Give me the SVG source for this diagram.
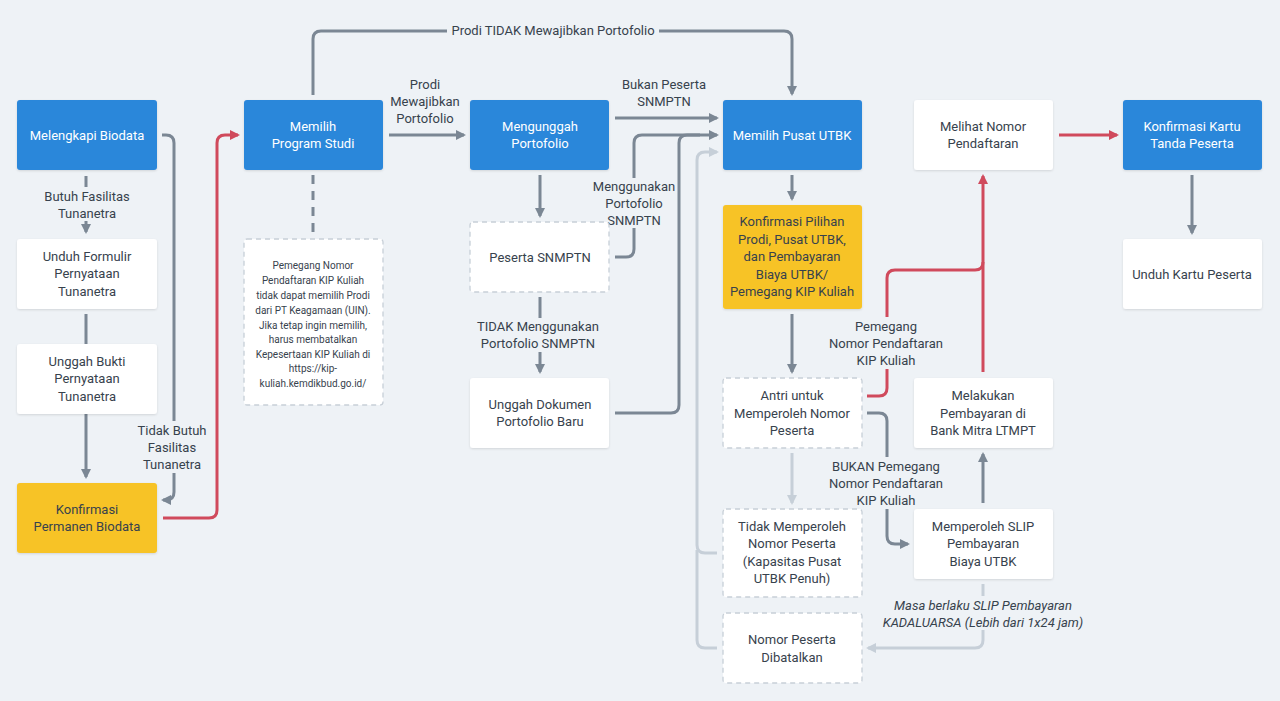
<svg xmlns="http://www.w3.org/2000/svg" width="1280" height="701" viewBox="0 0 1280 701">
<defs>
<marker id="ag" viewBox="0 0 10 10" refX="8" refY="5" markerWidth="10" markerHeight="10" markerUnits="userSpaceOnUse" orient="auto"><path d="M0,0 L10,5 L0,10 z" fill="#7b8794"/></marker>
<marker id="ar" viewBox="0 0 10 10" refX="8" refY="5" markerWidth="10" markerHeight="10" markerUnits="userSpaceOnUse" orient="auto"><path d="M0,0 L10,5 L0,10 z" fill="#d04a5c"/></marker>
<marker id="al" viewBox="0 0 10 10" refX="8" refY="5" markerWidth="10" markerHeight="10" markerUnits="userSpaceOnUse" orient="auto"><path d="M0,0 L10,5 L0,10 z" fill="#c6cfd8"/></marker>
<filter id="sh" x="-10%" y="-10%" width="120%" height="130%"><feDropShadow dx="0" dy="1" stdDeviation="1" flood-color="#000" flood-opacity="0.12"/></filter>
</defs>
<style>
text{font-family:Roboto,"Noto Sans",sans-serif;font-size:13px;fill:#37424d;text-anchor:middle}
.w text{fill:#ffffff}
.blue{fill:#2c87da;filter:url(#sh)}
.yel{fill:#f7c325;filter:url(#sh)}
.wht{fill:#ffffff;filter:url(#sh)}
.dsh{fill:#ffffff;stroke:#c7cfd7;stroke-width:1.3;stroke-dasharray:5,4}
.ln{fill:none;stroke:#7b8794;stroke-width:3}
.lr{fill:none;stroke:#d04a5c;stroke-width:3}
.ll{fill:none;stroke:#c6cfd8;stroke-width:3}
.bg{fill:#eef2f6}
.it{font-style:italic}
.sm{font-size:10px}
</style>
<rect width="1280" height="701" fill="#eef2f6"/>
<g id="connectors">
<path class="ln" d="M86,176 V232" marker-end="url(#ag)"/>
<path class="ln" d="M86,314 V344"/>
<path class="ln" d="M86,414 V477" marker-end="url(#ag)"/>
<path class="ln" d="M162,135 H166 Q174,135 174,143 V492 Q174,500 166,500 H163" marker-end="url(#ag)"/>
<path class="lr" d="M163,518 H209 Q217,518 217,510 V143 Q217,135 225,135 H238" marker-end="url(#ar)"/>
<path class="ln" d="M389,135 H464" marker-end="url(#ag)"/>
<path class="ln" d="M313,95 V39 Q313,31 321,31 H784 Q792,31 792,39 V94" marker-end="url(#ag)"/>
<path class="ln" d="M313,175 V233" stroke-dasharray="9,7"/>
<path class="ln" d="M615,118 H717" marker-end="url(#ag)"/>
<path class="ln" d="M540,175 V216" marker-end="url(#ag)"/>
<path class="ln" d="M615,257 H626 Q634,257 634,249 V143 Q634,135 642,135 H717" marker-end="url(#ag)"/>
<path class="ln" d="M540,297 V372" marker-end="url(#ag)"/>
<path class="ln" d="M615,413 H671 Q679,413 679,405 V143 Q679,135 687,135 H700"/>
<path class="ll" d="M717,553 H705 Q697,553 697,545 V160 Q697,152 705,152 H717" marker-end="url(#al)"/>
<path class="ll" d="M717,648 H705 Q697,648 697,640 V550"/>
<path class="ln" d="M792,175 V199" marker-end="url(#ag)"/>
<path class="ln" d="M792,314 V372" marker-end="url(#ag)"/>
<path class="lr" d="M867,396 H879 Q887,396 887,388 V278 Q887,270 895,270 H975 Q983,270 983,262"/>
<path class="lr" d="M983,372 V176" marker-end="url(#ar)"/>
<path class="ln" d="M867,413 H879 Q887,413 887,421 V536 Q887,544 895,544 H908" marker-end="url(#ag)"/>
<path class="ll" d="M792,453 V503" marker-end="url(#al)"/>
<path class="ln" d="M983,503 V454" marker-end="url(#ag)"/>
<path class="ll" d="M983,584 V640 Q983,648 975,648 H868" marker-end="url(#al)"/>
<path class="lr" d="M1059,135 H1117" marker-end="url(#ar)"/>
<path class="ln" d="M1192,175 V233" marker-end="url(#ag)"/>
<g id="labels">
<rect class="bg" x="40" y="187" width="92" height="34"/>
<text x="87" y="201">Butuh Fasilitas</text><text x="87" y="218">Tunanetra</text>
<rect class="bg" x="135" y="421" width="76" height="52"/>
<text x="172" y="435">Tidak Butuh</text><text x="172" y="452">Fasilitas</text><text x="172" y="469">Tunanetra</text>
<text x="425" y="89">Prodi</text><text x="425" y="106">Mewajibkan</text><text x="425" y="123">Portofolio</text>
<rect class="bg" x="447" y="23" width="212" height="16"/>
<text x="553" y="35">Prodi TIDAK Mewajibkan Portofolio</text>
<text x="664" y="89">Bukan Peserta</text><text x="664" y="106">SNMPTN</text>
<rect class="bg" x="592" y="178" width="84" height="50"/>
<text x="634" y="191">Menggunakan</text><text x="634" y="208">Portofolio</text><text x="634" y="225">SNMPTN</text>
<rect class="bg" x="476" y="318" width="124" height="34"/>
<text x="538" y="331">TIDAK Menggunakan</text><text x="538" y="348">Portofolio SNMPTN</text>
<rect class="bg" x="828" y="317" width="118" height="52"/>
<text x="886" y="331">Pemegang</text><text x="886" y="348">Nomor Pendaftaran</text><text x="886" y="365">KIP Kuliah</text>
<rect class="bg" x="828" y="457" width="118" height="52"/>
<text x="886" y="471">BUKAN Pemegang</text><text x="886" y="488">Nomor Pendaftaran</text><text x="886" y="505">KIP Kuliah</text>
<rect class="bg" x="885" y="596" width="198" height="34"/>
<text class="it" x="983" y="610">Masa berlaku SLIP Pembayaran</text><text class="it" x="983" y="627">KADALUARSA (Lebih dari 1x24 jam)</text>
</g>
</g>
<g id="n-melengkapi" class="w"><rect class="blue" x="17" y="100" width="140" height="70" rx="3"/><text x="87" y="139.5">Melengkapi Biodata</text></g>
<g id="n-unduh-formulir"><rect class="wht" x="17" y="239" width="140" height="70" rx="3"/><text x="87" y="261">Unduh Formulir</text><text x="87" y="278">Pernyataan</text><text x="87" y="296">Tunanetra</text></g>
<g id="n-unggah-bukti"><rect class="wht" x="17" y="344" width="140" height="70" rx="3"/><text x="87" y="366">Unggah Bukti</text><text x="87" y="383">Pernyataan</text><text x="87" y="401">Tunanetra</text></g>
<g id="n-konfirmasi-biodata"><rect class="yel" x="17" y="483" width="140" height="70" rx="3"/><text x="87" y="514">Konfirmasi</text><text x="87" y="531">Permanen Biodata</text></g>
<g id="n-memilih-prodi" class="w"><rect class="blue" x="244" y="100" width="139" height="70" rx="3"/><text x="313" y="131">Memilih</text><text x="313" y="148">Program Studi</text></g>
<g id="n-note"><rect class="dsh" x="244" y="239" width="139" height="166" rx="3"/>
<text class="sm" x="313" y="269">Pemegang Nomor</text><text class="sm" x="313" y="284">Pendaftaran KIP Kuliah</text><text class="sm" x="313" y="299">tidak dapat memilih Prodi</text><text class="sm" x="313" y="314">dari PT Keagamaan (UIN).</text><text class="sm" x="313" y="329">Jika tetap ingin memilih,</text><text class="sm" x="313" y="343">harus membatalkan</text><text class="sm" x="313" y="358">Kepesertaan KIP Kuliah di</text><text class="sm" x="313" y="372">https://kip-</text><text class="sm" x="313" y="387">kuliah.kemdikbud.go.id/</text></g>
<g id="n-mengunggah" class="w"><rect class="blue" x="470" y="100" width="139" height="70" rx="3"/><text x="540" y="131">Mengunggah</text><text x="540" y="148">Portofolio</text></g>
<g id="n-peserta-snmptn"><rect class="dsh" x="470" y="222" width="139" height="70" rx="3"/><text x="540" y="261.5">Peserta SNMPTN</text></g>
<g id="n-unggah-dokumen"><rect class="wht" x="470" y="378" width="139" height="70" rx="3"/><text x="540" y="409">Unggah Dokumen</text><text x="540" y="426">Portofolio Baru</text></g>
<g id="n-memilih-pusat" class="w"><rect class="blue" x="723" y="100" width="139" height="70" rx="3"/><text x="792" y="139.5">Memilih Pusat UTBK</text></g>
<g id="n-konfirmasi-pilihan"><rect class="yel" x="723" y="205" width="139" height="104" rx="3"/><text x="792" y="226">Konfirmasi Pilihan</text><text x="792" y="244">Prodi, Pusat UTBK,</text><text x="792" y="261">dan Pembayaran</text><text x="792" y="279">Biaya UTBK/</text><text x="792" y="296">Pemegang KIP Kuliah</text></g>
<g id="n-antri"><rect class="dsh" x="723" y="378" width="139" height="70" rx="3"/><text x="792" y="400">Antri untuk</text><text x="792" y="418">Memperoleh Nomor</text><text x="792" y="435">Peserta</text></g>
<g id="n-tidak-memperoleh"><rect class="dsh" x="723" y="509" width="139" height="88" rx="3"/><text x="792" y="531">Tidak Memperoleh</text><text x="792" y="548">Nomor Peserta</text><text x="792" y="566">(Kapasitas Pusat</text><text x="792" y="583">UTBK Penuh)</text></g>
<g id="n-dibatalkan"><rect class="dsh" x="723" y="613" width="139" height="70" rx="3"/><text x="792" y="644">Nomor Peserta</text><text x="792" y="662">Dibatalkan</text></g>
<g id="n-melihat-nomor"><rect class="wht" x="914" y="100" width="139" height="70" rx="3"/><text x="983" y="131">Melihat Nomor</text><text x="983" y="148">Pendaftaran</text></g>
<g id="n-melakukan-pembayaran"><rect class="wht" x="914" y="378" width="139" height="70" rx="3"/><text x="983" y="400">Melakukan</text><text x="983" y="418">Pembayaran di</text><text x="983" y="435">Bank Mitra LTMPT</text></g>
<g id="n-memperoleh-slip"><rect class="wht" x="914" y="509" width="139" height="70" rx="3"/><text x="983" y="531">Memperoleh SLIP</text><text x="983" y="548">Pembayaran</text><text x="983" y="566">Biaya UTBK</text></g>
<g id="n-konfirmasi-kartu" class="w"><rect class="blue" x="1123" y="100" width="139" height="70" rx="3"/><text x="1192" y="131">Konfirmasi Kartu</text><text x="1192" y="148">Tanda Peserta</text></g>
<g id="n-unduh-kartu"><rect class="wht" x="1123" y="239" width="139" height="70" rx="3"/><text x="1192" y="278.5">Unduh Kartu Peserta</text></g>
</svg>
